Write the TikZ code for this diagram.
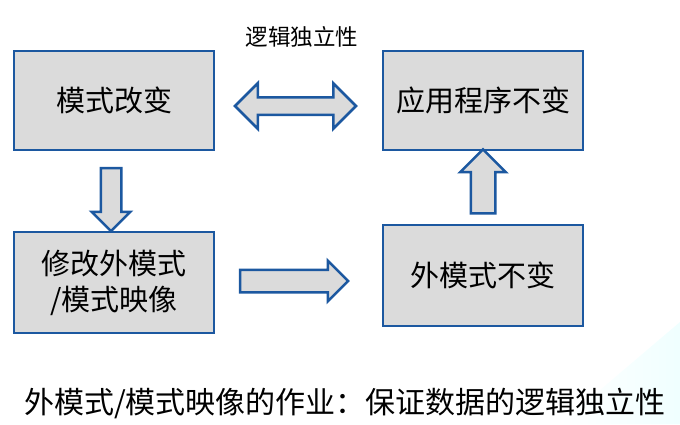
\documentclass[tikz,border=0pt]{standalone}
\usepackage{fontspec}
\setmainfont{Noto Sans CJK SC}
\usetikzlibrary{calc, shapes.arrows}

\definecolor{boxgray}{RGB}{219,219,219}
\definecolor{boxblue}{RGB}{28,88,160}

\begin{document}
\begin{tikzpicture}[x=1pt,y=-1pt,
  box/.style={draw=boxblue,fill=boxgray,line width=2.2pt,minimum width=200pt,
    align=center,font=\fontsize{29}{36}\selectfont},
  blk/.style={draw=boxblue,fill=boxgray,line width=2.5pt,inner xsep=0pt}]
\useasboundingbox (0,0) rectangle (680,424);
\shade[left color=white,right color=cyan!6] (560,424) -- (680,322) -- (680,424) -- cycle;

\node[box,minimum height=99pt] (change) at (114,100.5) {模式改变};
\node[box,minimum height=99pt] (app) at (483,100.5) {应用程序不变};
\node[box,minimum height=101pt] (remap) at (114,282.5) {修改外模式\\/模式映像};
\node[box,minimum height=101pt] (ext) at (483,275.5) {外模式不变};

% block arrows
\node[blk,double arrow,double arrow head extend=14pt,inner ysep=7.5pt,
  minimum height=121pt,minimum width=43pt] (lr) at ($(change.east)!0.5!(app.west)+(-3,5.5)$) {};
\node[blk,single arrow,rotate=-90,single arrow head extend=9pt,inner ysep=9pt,
  minimum height=63pt,minimum width=36pt] (down) at ($(change.south)!0.5!(remap.north)+(-3,3.5)$) {};
\node[blk,single arrow,single arrow head extend=9pt,inner ysep=10pt,
  minimum height=108pt,minimum width=38pt] (right) at ($(remap.east)!0.5!(ext.west)+(-10,2)$) {};
\node[blk,single arrow,rotate=90,single arrow head extend=10.5pt,inner ysep=11pt,
  minimum height=64pt,minimum width=43pt] (up) at ($(ext.north)!0.5!(app.south)$) {};

\node[font=\fontsize{22.5}{26}\selectfont] (indep) at (302,37) {逻辑独立性};
\node[font=\fontsize{30}{36}\selectfont] (role) at (345,403) {外模式/模式映像的作业：保证数据的逻辑独立性};
\end{tikzpicture}
\end{document}
